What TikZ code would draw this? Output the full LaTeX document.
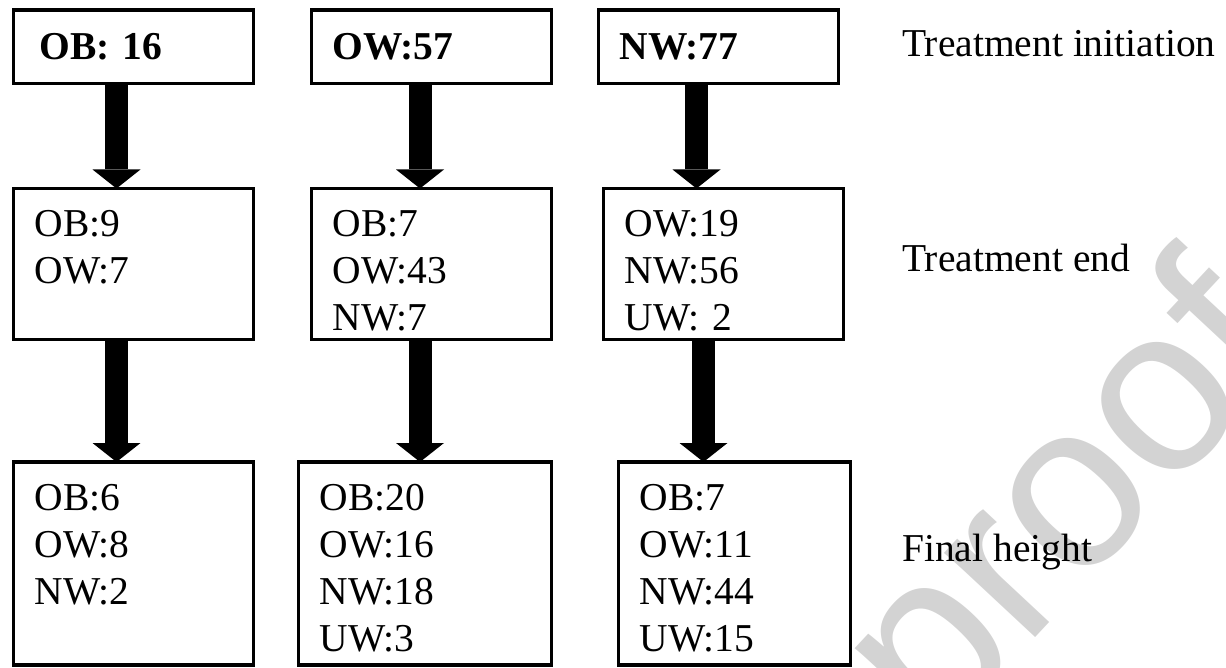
\documentclass[tikz,border=0pt]{standalone}
\usepackage{fontspec}
\setmainfont{Liberation Serif}
\newfontfamily\wmfont{Liberation Sans}
\usetikzlibrary{arrows.meta, positioning}
\definecolor{wmgray}{RGB}{211,211,211}

\begin{document}
\begin{tikzpicture}[x=1pt, y=-1pt,
        font=\fontsize{39.5}{47}\selectfont,
        box/.style={draw, line width=3.5pt, outer sep=0pt, anchor=north west,
                    inner xsep=21pt, inner ysep=0pt, align=left},
        startbox/.style={box, font=\fontsize{39.5}{47}\selectfont\bfseries,
                    text width=198pt, text height=50pt, text depth=23.5pt},
        endbox/.style={box, text width=198pt, text height=48.5pt, text depth=102.5pt},
        finalbox/.style={box, text height=48pt, text depth=155pt},
        stage/.style={anchor=base west, inner sep=0pt},
        bigarrow/.style={line width=23pt, -{Triangle[length=19pt, width=48pt, line width=0pt]}}]
    \useasboundingbox (0,0) rectangle (1226,668);

    % watermark
    \begin{scope}
        \clip (0,0) rectangle (1226,668);
        \node[wmgray, rotate=47, anchor=base west, inner sep=0pt,
              font=\wmfont\fontsize{235}{235}\selectfont] (wm) at (935,745) {proof};
    \end{scope}

    % Treatment initiation
    \node[startbox] (ob0) at (13.5,10) {\hspace*{5pt}OB: 16};
    \node[startbox] (ow0) at (311.5,10) {OW:57};
    \node[startbox] (nw0) at (598.5,10) {NW:77};

    % Treatment end
    \node[endbox] (ob1) at (13.5,188.5) {OB:9\\OW:7};
    \node[endbox] (ow1) at (311.5,188.5) {OB:7\\OW:43\\NW:7};
    \node[endbox] (nw1) at (603.5,188.5) {OW:19\\NW:56\\UW: 2};

    % Final height
    \node[finalbox, text width=198pt] (ob2) at (13.5,462) {OB:6\\OW:8\\NW:2};
    \node[finalbox, text width=211pt] (ow2) at (298.5,462) {OB:20\\OW:16\\NW:18\\UW:3};
    \node[finalbox, text width=190pt] (nw2) at (618.5,462) {OB:7\\OW:11\\NW:44\\UW:15};

    % stage labels
    \node[stage] (init) at (902,57) {Treatment initiation};
    \node[stage] (tend) at (902,272) {Treatment end};
    \node[stage] (final) at (902,561) {Final height};

    % arrow columns
    \coordinate (c1) at (116.5,0);
    \coordinate (c2) at (420,0);
    \coordinate (c3) at (696.5,0);
    \coordinate (c4) at (703.5,0);

    \draw[bigarrow] (ob0.south -| c1) -- (ob1.north -| c1);
    \draw[bigarrow] (ob1.south -| c1) -- (ob2.north -| c1);
    \draw[bigarrow] (ow0.south -| c2) -- (ow1.north -| c2);
    \draw[bigarrow] (ow1.south -| c2) -- (ow2.north -| c2);
    \draw[bigarrow] (nw0.south -| c3) -- (nw1.north -| c3);
    \draw[bigarrow] (nw1.south -| c4) -- (nw2.north -| c4);
\end{tikzpicture}
\end{document}
